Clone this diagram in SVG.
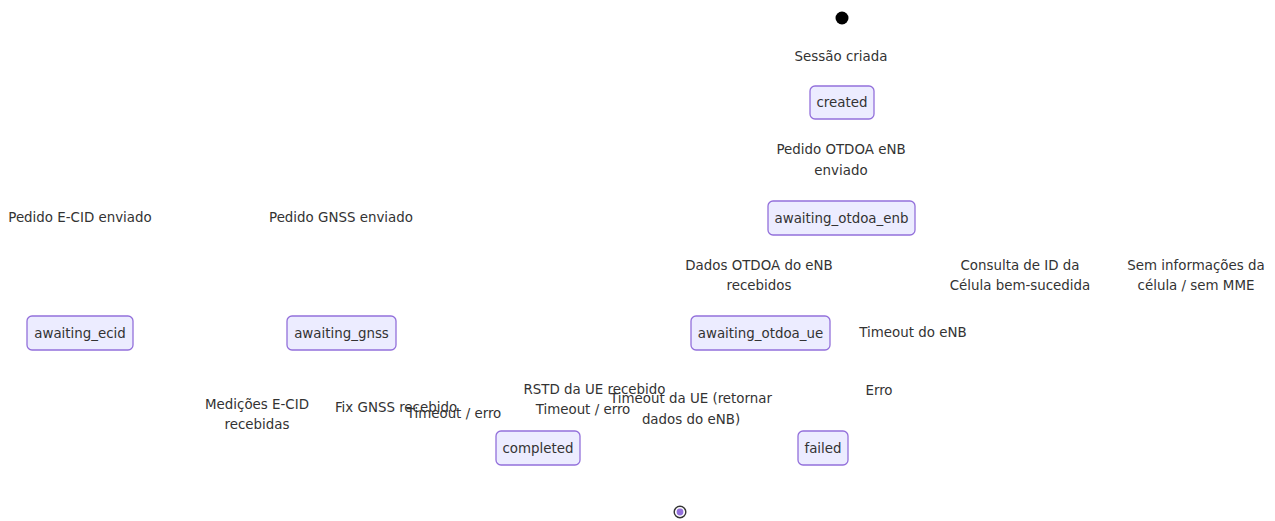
<svg xmlns="http://www.w3.org/2000/svg" width="1275" height="521" viewBox="0 0 1275 521">
<style>
text{font-family:"DejaVu Sans",sans-serif;font-size:13.4px;fill:#333;text-anchor:middle;dominant-baseline:central}
.box{fill:#ECECFF;stroke:#9370DB;stroke-width:1.3}
</style>
<rect width="1275" height="521" fill="#fff"/>
<g id="start"><circle cx="842" cy="18" r="6.5" fill="#000"/></g>
<g id="created"><rect class="box" x="810" y="86" width="64" height="33" rx="5"/><text x="842" y="102.5">created</text></g>
<g id="awaiting_otdoa_enb"><rect class="box" x="768" y="201" width="147" height="34" rx="5"/><text x="841.5" y="218">awaiting_otdoa_enb</text></g>
<g id="awaiting_ecid"><rect class="box" x="27" y="316" width="106" height="34" rx="5"/><text x="80" y="333">awaiting_ecid</text></g>
<g id="awaiting_gnss"><rect class="box" x="287" y="316" width="109" height="34" rx="5"/><text x="341.5" y="333">awaiting_gnss</text></g>
<g id="awaiting_otdoa_ue"><rect class="box" x="691" y="316" width="139" height="34" rx="5"/><text x="760.5" y="333">awaiting_otdoa_ue</text></g>
<g id="completed"><rect class="box" x="496" y="431" width="84" height="34" rx="5"/><text x="538" y="448">completed</text></g>
<g id="failed"><rect class="box" x="798" y="431" width="50" height="34" rx="5"/><text x="823" y="448">failed</text></g>
<g id="end"><circle cx="680" cy="512" r="5.8" fill="#fff" stroke="#333" stroke-width="1.4"/><circle cx="680" cy="512" r="3.4" fill="#9370DB"/></g>
<g id="connectors">
<text x="841" y="56">Sessão criada</text>
<text x="841" y="149">Pedido OTDOA eNB</text>
<text x="841" y="170">enviado</text>
<text x="80" y="217">Pedido E-CID enviado</text>
<text x="341" y="217">Pedido GNSS enviado</text>
<text x="759" y="265">Dados OTDOA do eNB</text>
<text x="759" y="285">recebidos</text>
<text x="1020" y="265">Consulta de ID da</text>
<text x="1020" y="285">Célula bem-sucedida</text>
<text x="1196" y="265">Sem informações da</text>
<text x="1196" y="285">célula / sem MME</text>
<text x="913" y="332">Timeout do eNB</text>
<text x="879" y="390">Erro</text>
<text x="257" y="404">Medições E-CID</text>
<text x="257" y="424">recebidas</text>
<text x="396" y="407">Fix GNSS recebido</text>
<text x="454" y="413">Timeout / erro</text>
<text x="594.5" y="389">RSTD da UE recebido</text>
<text x="583" y="409">Timeout / erro</text>
<text x="691" y="398">Timeout da UE (retornar</text>
<text x="691" y="419">dados do eNB)</text>
</g>
</svg>
